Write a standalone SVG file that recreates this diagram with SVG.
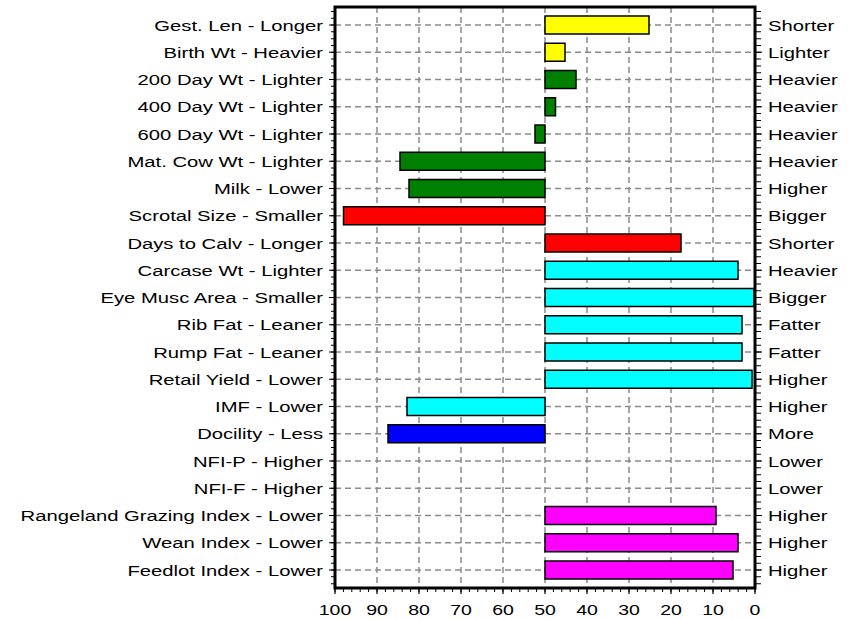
<svg xmlns="http://www.w3.org/2000/svg" width="855" height="619" viewBox="0 0 855 619">
<style>
text{font-family:"Liberation Sans",Arial,sans-serif;font-size:15px;fill:#000}
.l{text-anchor:end}
.r{text-anchor:start}
.m{text-anchor:middle}
.grid{stroke:#8a8a8a;stroke-width:1.5;stroke-dasharray:6 4;fill:none}
.bar{stroke:#000;stroke-width:1.5}
.tick{stroke:#000;stroke-width:1.2}
.frame{fill:none;stroke:#000;stroke-width:3}
</style>
<rect width="855" height="619" fill="#fff"/>
<g id="grid" class="grid">
<path d="M335 25H755M335 52.25H755M335 79.5H755M335 106.75H755M335 134H755M335 161.25H755M335 188.5H755M335 215.75H755M335 243H755M335 270.25H755M335 297.5H755M335 324.75H755M335 352H755M335 379.25H755M335 406.5H755M335 433.75H755M335 461H755M335 488.25H755M335 515.5H755M335 542.75H755M335 570H755"/>
<path d="M377 7V588M419 7V588M461 7V588M503 7V588M545 7V588M587 7V588M629 7V588M671 7V588M713 7V588"/>
</g>
<g id="connectors">
<g id="ticks">
<line x1="333" y1="10.875" x2="333" y2="588" stroke="#000" stroke-width="4" stroke-dasharray="1 5.8125"/>
<line x1="758" y1="10.875" x2="758" y2="588" stroke="#000" stroke-width="6" stroke-dasharray="1 5.8125"/>
<line x1="334.5" y1="590" x2="760" y2="590" stroke="#000" stroke-width="4" stroke-dasharray="1 7.4"/>
<path class="tick" d="M329 25h6M329 52.25h6M329 79.5h6M329 106.75h6M329 134h6M329 161.25h6M329 188.5h6M329 215.75h6M329 243h6M329 270.25h6M329 297.5h6M329 324.75h6M329 352h6M329 379.25h6M329 406.5h6M329 433.75h6M329 461h6M329 488.25h6M329 515.5h6M329 542.75h6M329 570h6"/>
<path class="tick" d="M755 25h7M755 52.25h7M755 79.5h7M755 106.75h7M755 134h7M755 161.25h7M755 188.5h7M755 215.75h7M755 243h7M755 270.25h7M755 297.5h7M755 324.75h7M755 352h7M755 379.25h7M755 406.5h7M755 433.75h7M755 461h7M755 488.25h7M755 515.5h7M755 542.75h7M755 570h7"/>
<path class="tick" d="M335 588v6M377 588v6M419 588v6M461 588v6M503 588v6M545 588v6M587 588v6M629 588v6M671 588v6M713 588v6M755 588v6"/>
</g>
</g>
<g id="row1"><text class="l" transform="translate(323,30.5) scale(1.35,1)">Gest. Len - Longer</text><rect class="bar" x="545" y="16" width="104" height="18" fill="#ffff00"/><text class="r" transform="translate(768,30.5) scale(1.35,1)">Shorter</text></g>
<g id="row2"><text class="l" transform="translate(323,57.75) scale(1.35,1)">Birth Wt - Heavier</text><rect class="bar" x="545" y="43.25" width="20" height="18" fill="#ffff00"/><text class="r" transform="translate(768,57.75) scale(1.35,1)">Lighter</text></g>
<g id="row3"><text class="l" transform="translate(323,85) scale(1.35,1)">200 Day Wt - Lighter</text><rect class="bar" x="545" y="70.5" width="31" height="18" fill="#008000"/><text class="r" transform="translate(768,85) scale(1.35,1)">Heavier</text></g>
<g id="row4"><text class="l" transform="translate(323,112.25) scale(1.35,1)">400 Day Wt - Lighter</text><rect class="bar" x="545" y="97.75" width="10.5" height="18" fill="#008000"/><text class="r" transform="translate(768,112.25) scale(1.35,1)">Heavier</text></g>
<g id="row5"><text class="l" transform="translate(323,139.5) scale(1.35,1)">600 Day Wt - Lighter</text><rect class="bar" x="535" y="125" width="10" height="18" fill="#008000"/><text class="r" transform="translate(768,139.5) scale(1.35,1)">Heavier</text></g>
<g id="row6"><text class="l" transform="translate(323,166.75) scale(1.35,1)">Mat. Cow Wt - Lighter</text><rect class="bar" x="400" y="152.25" width="145" height="18" fill="#008000"/><text class="r" transform="translate(768,166.75) scale(1.35,1)">Heavier</text></g>
<g id="row7"><text class="l" transform="translate(323,194) scale(1.35,1)">Milk - Lower</text><rect class="bar" x="409" y="179.5" width="136" height="18" fill="#008000"/><text class="r" transform="translate(768,194) scale(1.35,1)">Higher</text></g>
<g id="row8"><text class="l" transform="translate(323,221.25) scale(1.35,1)">Scrotal Size - Smaller</text><rect class="bar" x="343.5" y="206.75" width="201.5" height="18" fill="#ff0000"/><text class="r" transform="translate(768,221.25) scale(1.35,1)">Bigger</text></g>
<g id="row9"><text class="l" transform="translate(323,248.5) scale(1.35,1)">Days to Calv - Longer</text><rect class="bar" x="545" y="234" width="136" height="18" fill="#ff0000"/><text class="r" transform="translate(768,248.5) scale(1.35,1)">Shorter</text></g>
<g id="row10"><text class="l" transform="translate(323,275.75) scale(1.35,1)">Carcase Wt - Lighter</text><rect class="bar" x="545" y="261.25" width="193" height="18" fill="#00ffff"/><text class="r" transform="translate(768,275.75) scale(1.35,1)">Heavier</text></g>
<g id="row11"><text class="l" transform="translate(323,303) scale(1.35,1)">Eye Musc Area - Smaller</text><rect class="bar" x="545" y="288.5" width="209" height="18" fill="#00ffff"/><text class="r" transform="translate(768,303) scale(1.35,1)">Bigger</text></g>
<g id="row12"><text class="l" transform="translate(323,330.25) scale(1.35,1)">Rib Fat - Leaner</text><rect class="bar" x="545" y="315.75" width="197" height="18" fill="#00ffff"/><text class="r" transform="translate(768,330.25) scale(1.35,1)">Fatter</text></g>
<g id="row13"><text class="l" transform="translate(323,357.5) scale(1.35,1)">Rump Fat - Leaner</text><rect class="bar" x="545" y="343" width="197" height="18" fill="#00ffff"/><text class="r" transform="translate(768,357.5) scale(1.35,1)">Fatter</text></g>
<g id="row14"><text class="l" transform="translate(323,384.75) scale(1.35,1)">Retail Yield - Lower</text><rect class="bar" x="545" y="370.25" width="207" height="18" fill="#00ffff"/><text class="r" transform="translate(768,384.75) scale(1.35,1)">Higher</text></g>
<g id="row15"><text class="l" transform="translate(323,412) scale(1.35,1)">IMF - Lower</text><rect class="bar" x="407" y="397.5" width="138" height="18" fill="#00ffff"/><text class="r" transform="translate(768,412) scale(1.35,1)">Higher</text></g>
<g id="row16"><text class="l" transform="translate(323,439.25) scale(1.35,1)">Docility - Less</text><rect class="bar" x="388" y="424.75" width="157" height="18" fill="#0000ff"/><text class="r" transform="translate(768,439.25) scale(1.35,1)">More</text></g>
<g id="row17"><text class="l" transform="translate(323,466.5) scale(1.35,1)">NFI-P - Higher</text><text class="r" transform="translate(768,466.5) scale(1.35,1)">Lower</text></g>
<g id="row18"><text class="l" transform="translate(323,493.75) scale(1.35,1)">NFI-F - Higher</text><text class="r" transform="translate(768,493.75) scale(1.35,1)">Lower</text></g>
<g id="row19"><text class="l" transform="translate(323,521) scale(1.35,1)">Rangeland Grazing Index - Lower</text><rect class="bar" x="545" y="506.5" width="171" height="18" fill="#ff00ff"/><text class="r" transform="translate(768,521) scale(1.35,1)">Higher</text></g>
<g id="row20"><text class="l" transform="translate(323,548.25) scale(1.35,1)">Wean Index - Lower</text><rect class="bar" x="545" y="533.75" width="193" height="18" fill="#ff00ff"/><text class="r" transform="translate(768,548.25) scale(1.35,1)">Higher</text></g>
<g id="row21"><text class="l" transform="translate(323,575.5) scale(1.35,1)">Feedlot Index - Lower</text><rect class="bar" x="545" y="561" width="188" height="18" fill="#ff00ff"/><text class="r" transform="translate(768,575.5) scale(1.35,1)">Higher</text></g>
<rect id="frame" class="frame" x="335" y="7" width="420" height="581"/>
<g id="xaxis-labels">
<text class="m" transform="translate(335,615) scale(1.3,1)">100</text>
<text class="m" transform="translate(377,615) scale(1.3,1)">90</text>
<text class="m" transform="translate(419,615) scale(1.3,1)">80</text>
<text class="m" transform="translate(461,615) scale(1.3,1)">70</text>
<text class="m" transform="translate(503,615) scale(1.3,1)">60</text>
<text class="m" transform="translate(545,615) scale(1.3,1)">50</text>
<text class="m" transform="translate(587,615) scale(1.3,1)">40</text>
<text class="m" transform="translate(629,615) scale(1.3,1)">30</text>
<text class="m" transform="translate(671,615) scale(1.3,1)">20</text>
<text class="m" transform="translate(713,615) scale(1.3,1)">10</text>
<text class="m" transform="translate(755,615) scale(1.3,1)">0</text>
</g>
</svg>
